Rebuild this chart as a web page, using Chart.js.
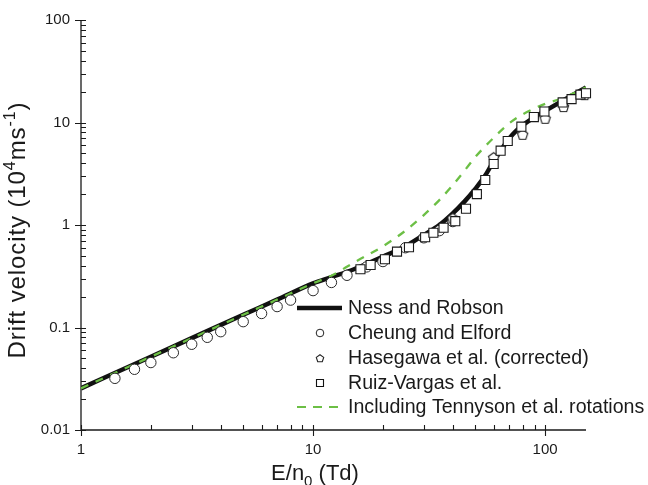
<!DOCTYPE html>
<html><head><meta charset="utf-8">
<script src="https://cdn.jsdelivr.net/npm/chart.js@4"></script>
<style>html,body{margin:0;padding:0;background:#fff}#wrap{width:648px;height:485px;position:relative}</style>
</head><body><div id="wrap"><canvas id="c" width="648" height="485"></canvas></div>
<script>
// ---- Data ----
const xTickValues = [1, 10, 100];
const xTickLabels = ['1', '10', '100'];
const yTickValues = [0.01, 0.1, 1, 10, 100];
const yTickLabels = ['0.01', '0.1', '1', '10', '100'];

const seriesLabels = ['Ness and Robson', 'Cheung and Elford', 'Hasegawa et al. (corrected)', 'Ruiz-Vargas et al.', 'Including Tennyson et al. rotations'];

const nessE = [1, 2, 3, 5, 7, 10, 12, 15, 20, 25, 30, 35, 40, 45, 50, 55, 60, 65, 70, 75, 80, 90, 100, 120, 150];
const nessV = [0.0255, 0.0519, 0.0787, 0.133, 0.187, 0.27, 0.31, 0.37, 0.49, 0.62, 0.80, 1.0, 1.3, 1.7, 2.25, 3.0, 4.2, 5.5, 7.0, 8.3, 9.4, 11.3, 13.0, 16.5, 22.0];

const cheungE = [1.4, 1.7, 2, 2.5, 3, 3.5, 4, 5, 6, 7, 8, 10, 12, 14, 17, 20, 25, 30, 35, 40];
const cheungV = [0.0319, 0.0391, 0.0455, 0.0567, 0.0686, 0.0802, 0.091, 0.114, 0.137, 0.160, 0.185, 0.229, 0.275, 0.323, 0.39, 0.44, 0.60, 0.75, 0.88, 1.08];

const hasegawaE = [40, 60, 80, 100, 120, 148];
const hasegawaV = [1.17, 4.57, 7.67, 11.0, 14.3, 18.7];

const ruizE = [16, 17.7, 20.4, 23, 25.9, 30.4, 33, 36.5, 41, 45.6, 50.8, 55.2, 60, 64.3, 69, 79, 89.4, 99.3, 119, 130, 142, 150];
const ruizV = [0.37, 0.407, 0.463, 0.55, 0.606, 0.76, 0.84, 0.94, 1.09, 1.44, 2.0, 2.75, 3.94, 5.31, 6.6, 9.1, 11.3, 12.8, 15.7, 16.9, 18.7, 19.3];

const tennysonE = [1, 2, 3, 5, 7, 10, 12, 15, 20, 25, 30, 35, 40, 45, 50, 60, 70, 80, 100, 120, 150];
const tennysonV = [0.0255, 0.0519, 0.0787, 0.133, 0.187, 0.27, 0.32, 0.43, 0.62, 0.88, 1.25, 1.75, 2.45, 3.4, 4.6, 7.1, 9.8, 12.0, 15.2, 17.4, 22.0];

const pts = (xs, ys) => xs.map((x, i) => ({x, y: ys[i]}));

// pentagon marker
function pentagon(size, lw) {
  const c = document.createElement('canvas');
  c.width = size; c.height = size;
  const g = c.getContext('2d');
  const r = size / 2 - lw;
  g.beginPath();
  for (let i = 0; i < 5; i++) {
    const a = -Math.PI / 2 + i * 2 * Math.PI / 5;
    const px = size / 2 + r * Math.cos(a), py = size / 2 + 0.6 + r * Math.sin(a);
    if (i === 0) g.moveTo(px, py); else g.lineTo(px, py);
  }
  g.closePath();
  g.fillStyle = '#fff'; g.fill();
  g.lineWidth = lw; g.strokeStyle = '#222'; g.stroke();
  return c;
}
const pentBig = pentagon(13, 1.1);
const pentSmall = pentagon(10, 1.1);

const FONT = "'Liberation Sans', Arial, sans-serif";
const GREEN = '#6cbf45';

const axisPlugin = {
  id: 'axesTicks',
  beforeDatasetsDraw(chart) {
    const {ctx, chartArea: a, scales: {x, y}} = chart;
    ctx.save();
    ctx.strokeStyle = '#1a1a1a';
    ctx.lineWidth = 1.3;
    ctx.beginPath();
    ctx.moveTo(a.left, a.top); ctx.lineTo(a.left, a.bottom); ctx.lineTo(a.right, a.bottom);
    ctx.stroke();
    ctx.lineWidth = 1.1;
    ctx.beginPath();
    for (let d = 0; d <= 2; d++) for (let m = 1; m <= 9; m++) {
      const v = m * Math.pow(10, d);
      if (v > x.max) break;
      const px = Math.round(x.getPixelForValue(v)) + 0.5;
      ctx.moveTo(px, a.bottom + (m === 1 ? 6 : 0));
      ctx.lineTo(px, a.bottom - 5);
    }
    for (let d = -2; d <= 2; d++) for (let m = 1; m <= 9; m++) {
      const v = m * Math.pow(10, d);
      if (v > y.max * 1.0001) break;
      const py = Math.round(y.getPixelForValue(v)) + 0.5;
      ctx.moveTo(a.left - (m === 1 ? 6 : 0), py);
      ctx.lineTo(a.left + 5, py);
    }
    ctx.stroke();
    ctx.restore();
  },
  afterDraw(chart) {
    const {ctx, chartArea: a} = chart;
    ctx.save();
    ctx.fillStyle = '#1a1a1a';
    // x title: E/n0 (Td)
    const fs = 22, ss = 15;
    const parts = [['E/n', fs, 0], ['0', ss, 6], [' (Td)', fs, 0]];
    let w = 0;
    parts.forEach(p => { ctx.font = p[1] + 'px ' + FONT; w += ctx.measureText(p[0]).width; });
    let cx = 315 - w / 2;
    ctx.textBaseline = 'alphabetic';
    parts.forEach(p => { ctx.font = p[1] + 'px ' + FONT; ctx.fillText(p[0], cx, 480 + p[2]); cx += ctx.measureText(p[0]).width; });
    // y title
    const yfs = 24, yss = 16;
    ctx.letterSpacing = '0.9px';
    const yparts = [['Drift velocity (10', yfs, 0], ['4', yss, -10], ['ms', yfs, 0], ['-1', yss, -10], [')', yfs, 0]];
    w = 0;
    yparts.forEach(p => { ctx.font = p[1] + 'px ' + FONT; w += ctx.measureText(p[0]).width; });
    ctx.translate(25, (a.top + a.bottom) / 2 + 5);
    ctx.rotate(-Math.PI / 2);
    cx = -w / 2;
    yparts.forEach(p => { ctx.font = p[1] + 'px ' + FONT; ctx.fillText(p[0], cx, p[2]); cx += ctx.measureText(p[0]).width; });
    ctx.restore();

    // legend
    ctx.save();
    const rows = [308, 333, 358, 383, 407];
    const ds = chart.data.datasets;
    const byLabel = l => ds.find(d => d.label === l);
    ctx.font = '19.6px ' + FONT;
    ctx.fillStyle = '#1a1a1a';
    ctx.textBaseline = 'middle';
    seriesLabels.forEach((lab, i) => {
      const yy = rows[i];
      const d = byLabel(lab);
      if (i === 0) {
        ctx.strokeStyle = '#111'; ctx.lineWidth = 4.5; ctx.beginPath(); ctx.moveTo(297, yy); ctx.lineTo(342, yy); ctx.stroke();
      } else if (i === 4) {
        ctx.strokeStyle = GREEN; ctx.lineWidth = 2.2; ctx.setLineDash([9, 7]); ctx.beginPath(); ctx.moveTo(297, yy); ctx.lineTo(342, yy); ctx.stroke(); ctx.setLineDash([]);
      } else if (i === 1) {
        ctx.strokeStyle = '#222'; ctx.lineWidth = 1; ctx.fillStyle = '#fff'; ctx.beginPath(); ctx.arc(320, yy, 3.8, 0, 2 * Math.PI); ctx.fill(); ctx.stroke();
      } else if (i === 2) {
        ctx.drawImage(pentSmall, 320 - 5, yy - 5);
      } else if (i === 3) {
        ctx.strokeStyle = '#111'; ctx.lineWidth = 1.1; ctx.fillStyle = '#fff'; ctx.beginPath(); ctx.rect(316.5, yy - 3.5, 7, 7); ctx.fill(); ctx.stroke();
      }
      ctx.fillStyle = '#1a1a1a';
      ctx.fillText(d.label, 348, yy + 1);
    });
    ctx.restore();
  }
};

new Chart(document.getElementById('c'), {
  type: 'scatter',
  data: {
    datasets: [
      {label: seriesLabels[3], data: pts(ruizE, ruizV), pointStyle: 'rect', pointRadius: 6.4, pointHoverRadius: 6.4,
       pointBackgroundColor: '#fff', pointBorderColor: '#1a1a1a', pointBorderWidth: 1.1, showLine: false, order: 0, clip: false},
      {label: seriesLabels[2], data: pts(hasegawaE, hasegawaV), pointStyle: pentBig, showLine: false, order: 1, clip: false},
      {label: seriesLabels[1], data: pts(cheungE, cheungV), pointStyle: 'circle', pointRadius: 5.2, pointHoverRadius: 5.2,
       pointBackgroundColor: '#fff', pointBorderColor: '#2a2a2a', pointBorderWidth: 1, showLine: false, order: 2, clip: false},
      {label: seriesLabels[4], data: pts(tennysonE, tennysonV), showLine: true, borderColor: GREEN, borderWidth: 2.3,
       borderDash: [8, 8], pointRadius: 0, cubicInterpolationMode: 'monotone', order: 3},
      {label: seriesLabels[0], data: pts(nessE, nessV), showLine: true, borderColor: '#111', borderWidth: 4.5,
       pointRadius: 0, cubicInterpolationMode: 'monotone', order: 4}
    ]
  },
  options: {
    responsive: false,
    animation: false,
    devicePixelRatio: 1,
    layout: {padding: {left: 0, top: 20, right: 62, bottom: 0}},
    plugins: {legend: {display: false}, tooltip: {enabled: false}},
    events: [],
    scales: {
      x: {
        type: 'logarithmic', min: 1, max: 150, position: 'bottom',
        grid: {display: false, drawTicks: false}, border: {display: false},
        afterBuildTicks: s => { s.ticks = xTickValues.map(v => ({value: v})); },
        afterFit: s => { s.height = 55; },
        ticks: {padding: 11, color: '#1a1a1a', font: {family: FONT, size: 15}, maxRotation: 0,
                callback: v => { const i = xTickValues.indexOf(v); return i >= 0 ? xTickLabels[i] : ''; }}
      },
      y: {
        type: 'logarithmic', min: 0.01, max: 100,
        grid: {display: false, drawTicks: false}, border: {display: false},
        afterBuildTicks: s => { s.ticks = yTickValues.map(v => ({value: v})); },
        afterFit: s => { s.width = 81; },
        ticks: {padding: 11, color: '#1a1a1a', font: {family: FONT, size: 15},
                callback: v => { const i = yTickValues.findIndex(t => Math.abs(t - v) / t < 1e-6); return i >= 0 ? yTickLabels[i] : ''; }}
      }
    }
  },
  plugins: [axisPlugin]
});
</script>
</body></html>
